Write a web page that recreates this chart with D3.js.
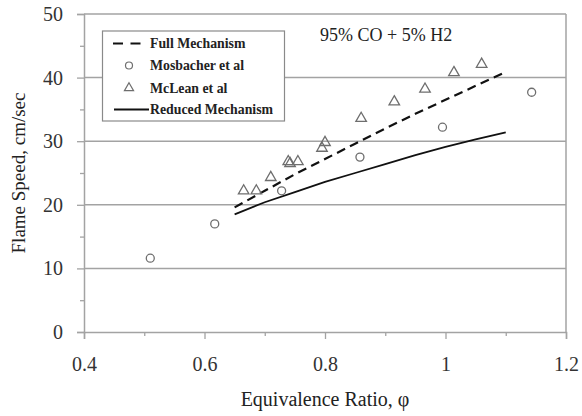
<!DOCTYPE html>
<html>
<head>
<meta charset="utf-8">
<script src="https://cdn.jsdelivr.net/npm/d3@7"></script>
<style>
  html, body { margin: 0; padding: 0; background: #fff; }
  svg { display: block; }
  text { font-family: "Liberation Serif", "Times New Roman", serif; fill: #222; }
</style>
</head>
<body>
<div id="chart"></div>
<script>
// ---- data ----
const xTickValues = [0.4, 0.6, 0.8, 1.0, 1.2];
const xTickLabels = ["0.4", "0.6", "0.8", "1", "1.2"];
const xMinorTicks = [0.5, 0.7, 0.9, 1.1];
const yTickValues = [0, 10, 20, 30, 40, 50];
const yMinorTicks = [5, 15, 25, 35, 45];

const fullPhi   = [0.65, 0.70, 0.75, 0.80, 0.85, 0.90, 0.95, 1.00, 1.05, 1.10];
const fullSpeed = [19.6, 22.2, 24.8, 27.2, 29.6, 32.0, 34.3, 36.5, 38.7, 40.9];

const reducedPhi   = [0.65, 0.70, 0.75, 0.80, 0.85, 0.90, 0.95, 1.00, 1.05, 1.10];
const reducedSpeed = [18.5, 20.4, 22.0, 23.6, 25.0, 26.4, 27.8, 29.1, 30.3, 31.4];

const mosbacherPhi   = [0.51, 0.617, 0.728, 0.858, 0.995, 1.143];
const mosbacherSpeed = [11.6, 17.0, 22.2, 27.5, 32.2, 37.7];

const mcleanPhi   = [0.665, 0.686, 0.710, 0.739, 0.742, 0.755, 0.795, 0.800, 0.860, 0.915, 0.966, 1.014, 1.060];
const mcleanSpeed = [22.2, 22.2, 24.3, 26.8, 26.5, 26.8, 28.9, 29.8, 33.6, 36.2, 38.2, 40.8, 42.1];

const legendLabels = ["Full Mechanism", "Mosbacher et al", "McLean et al", "Reduced Mechanism"];
const annotation = "95% CO + 5% H2";
const xTitle = "Equivalence Ratio, \u03c6";
const yTitle = "Flame Speed, cm/sec";

// ---- layout ----
const W = 582, H = 416;
const margin = { left: 84, right: 16, top: 14, bottom: 84 };
const gray = "#a3a3a3";
const markerGray = "#6e6e6e";
const serif = '"Liberation Serif", "Times New Roman", serif';

const svg = d3.select("#chart").append("svg")
  .attr("width", W).attr("height", H);
svg.append("rect").attr("width", W).attr("height", H).attr("fill", "#fff");

const x = d3.scaleLinear().domain([0.4, 1.2]).range([margin.left, W - margin.right]);
const y = d3.scaleLinear().domain([0, 50]).range([H - margin.bottom, margin.top]);

// gridlines
svg.append("g").selectAll("line")
  .data(yTickValues.filter(v => v > 0))
  .join("line")
  .attr("x1", x(0.4)).attr("x2", x(1.2))
  .attr("y1", d => y(d)).attr("y2", d => y(d))
  .attr("stroke", gray).attr("stroke-width", 1.5);

// right border
svg.append("line")
  .attr("x1", x(1.2)).attr("x2", x(1.2))
  .attr("y1", y(0)).attr("y2", y(50))
  .attr("stroke", gray).attr("stroke-width", 1.5);

// axes
const xAxis = svg.append("g")
  .attr("transform", `translate(0,${y(0)})`)
  .call(d3.axisBottom(x).tickValues(xTickValues).tickSize(7).tickPadding(18)
        .tickFormat((d, i) => xTickLabels[i]));
const xMinor = svg.append("g")
  .attr("transform", `translate(0,${y(0)})`)
  .call(d3.axisBottom(x).tickValues(xMinorTicks).tickSize(4).tickFormat(""));
const yAxis = svg.append("g")
  .attr("transform", `translate(${x(0.4)},0)`)
  .call(d3.axisLeft(y).tickValues(yTickValues).tickSize(7).tickPadding(14));
const yMinor = svg.append("g")
  .attr("transform", `translate(${x(0.4)},0)`)
  .call(d3.axisLeft(y).tickValues(yMinorTicks).tickSize(4).tickFormat(""));

[xAxis, xMinor, yAxis, yMinor].forEach(g => {
  g.attr("font-family", null).attr("font-size", null);
  g.select(".domain").attr("stroke", gray).attr("stroke-width", 1.5);
  g.selectAll(".tick line").attr("stroke", gray).attr("stroke-width", 1.3);
  g.selectAll(".tick text")
    .style("font-family", serif)
    .style("font-size", "20px").style("fill", "#333");
});
xMinor.select(".domain").remove();
yMinor.select(".domain").remove();

// lines
const line = d3.line().x(d => x(d[0])).y(d => y(d[1]));
svg.append("path")
  .datum(fullPhi.map((p, i) => [p, fullSpeed[i]]))
  .attr("d", line).attr("fill", "none")
  .attr("stroke", "#111").attr("stroke-width", 2.2)
  .attr("stroke-dasharray", "9,5.5");
svg.append("path")
  .datum(reducedPhi.map((p, i) => [p, reducedSpeed[i]]))
  .attr("d", line).attr("fill", "none")
  .attr("stroke", "#111").attr("stroke-width", 1.8);

// markers
svg.append("g").selectAll("circle")
  .data(mosbacherPhi.map((p, i) => [p, mosbacherSpeed[i]]))
  .join("circle")
  .attr("cx", d => x(d[0])).attr("cy", d => y(d[1])).attr("r", 4)
  .attr("fill", "none").attr("stroke", markerGray).attr("stroke-width", 1.3);

const tri = d3.symbol().type(d3.symbolTriangle).size(48);
svg.append("g").selectAll("path")
  .data(mcleanPhi.map((p, i) => [p, mcleanSpeed[i]]))
  .join("path")
  .attr("d", tri)
  .attr("transform", d => `translate(${x(d[0])},${y(d[1])})`)
  .attr("fill", "none").attr("stroke", markerGray).attr("stroke-width", 1.3);

// legend
const lg = svg.append("g");
lg.append("rect")
  .attr("x", 102.5).attr("y", 31).attr("width", 182).attr("height", 90)
  .attr("fill", "#fff").attr("stroke", "#8a8a8a").attr("stroke-width", 1.2);
const rows = [43.5, 65.5, 88, 109.5];
lg.append("line").attr("x1", 113).attr("x2", 141).attr("y1", rows[0]).attr("y2", rows[0])
  .attr("stroke", "#111").attr("stroke-width", 2.2).attr("stroke-dasharray", "10,7.5");
lg.append("circle").attr("cx", 129).attr("cy", rows[1]).attr("r", 3.5)
  .attr("fill", "none").attr("stroke", markerGray).attr("stroke-width", 1.2);
lg.append("path").attr("d", d3.symbol().type(d3.symbolTriangle).size(36))
  .attr("transform", `translate(129,${rows[2]})`)
  .attr("fill", "none").attr("stroke", markerGray).attr("stroke-width", 1.2);
lg.append("line").attr("x1", 114).attr("x2", 149).attr("y1", rows[3]).attr("y2", rows[3])
  .attr("stroke", "#111").attr("stroke-width", 1.8);
lg.selectAll("text.lab")
  .data(legendLabels)
  .join("text").attr("class", "lab")
  .attr("x", 150).attr("y", (d, i) => rows[i] + 4.5)
  .attr("font-size", 13.8).attr("font-weight", "bold").attr("fill", "#222")
  .text(d => d);

// annotation
svg.append("text").attr("x", 320).attr("y", 41)
  .attr("font-size", 18).attr("fill", "#222").text(annotation);

// axis titles
svg.append("text")
  .attr("x", (x(0.4) + x(1.2)) / 2).attr("y", 406)
  .attr("text-anchor", "middle").attr("font-size", 20).attr("fill", "#333")
  .text(xTitle);
svg.append("text")
  .attr("transform", `translate(25,${(y(0) + y(50)) / 2}) rotate(-90)`)
  .attr("text-anchor", "middle").attr("font-size", 19).attr("fill", "#333")
  .text(yTitle);
</script>
</body>
</html>
